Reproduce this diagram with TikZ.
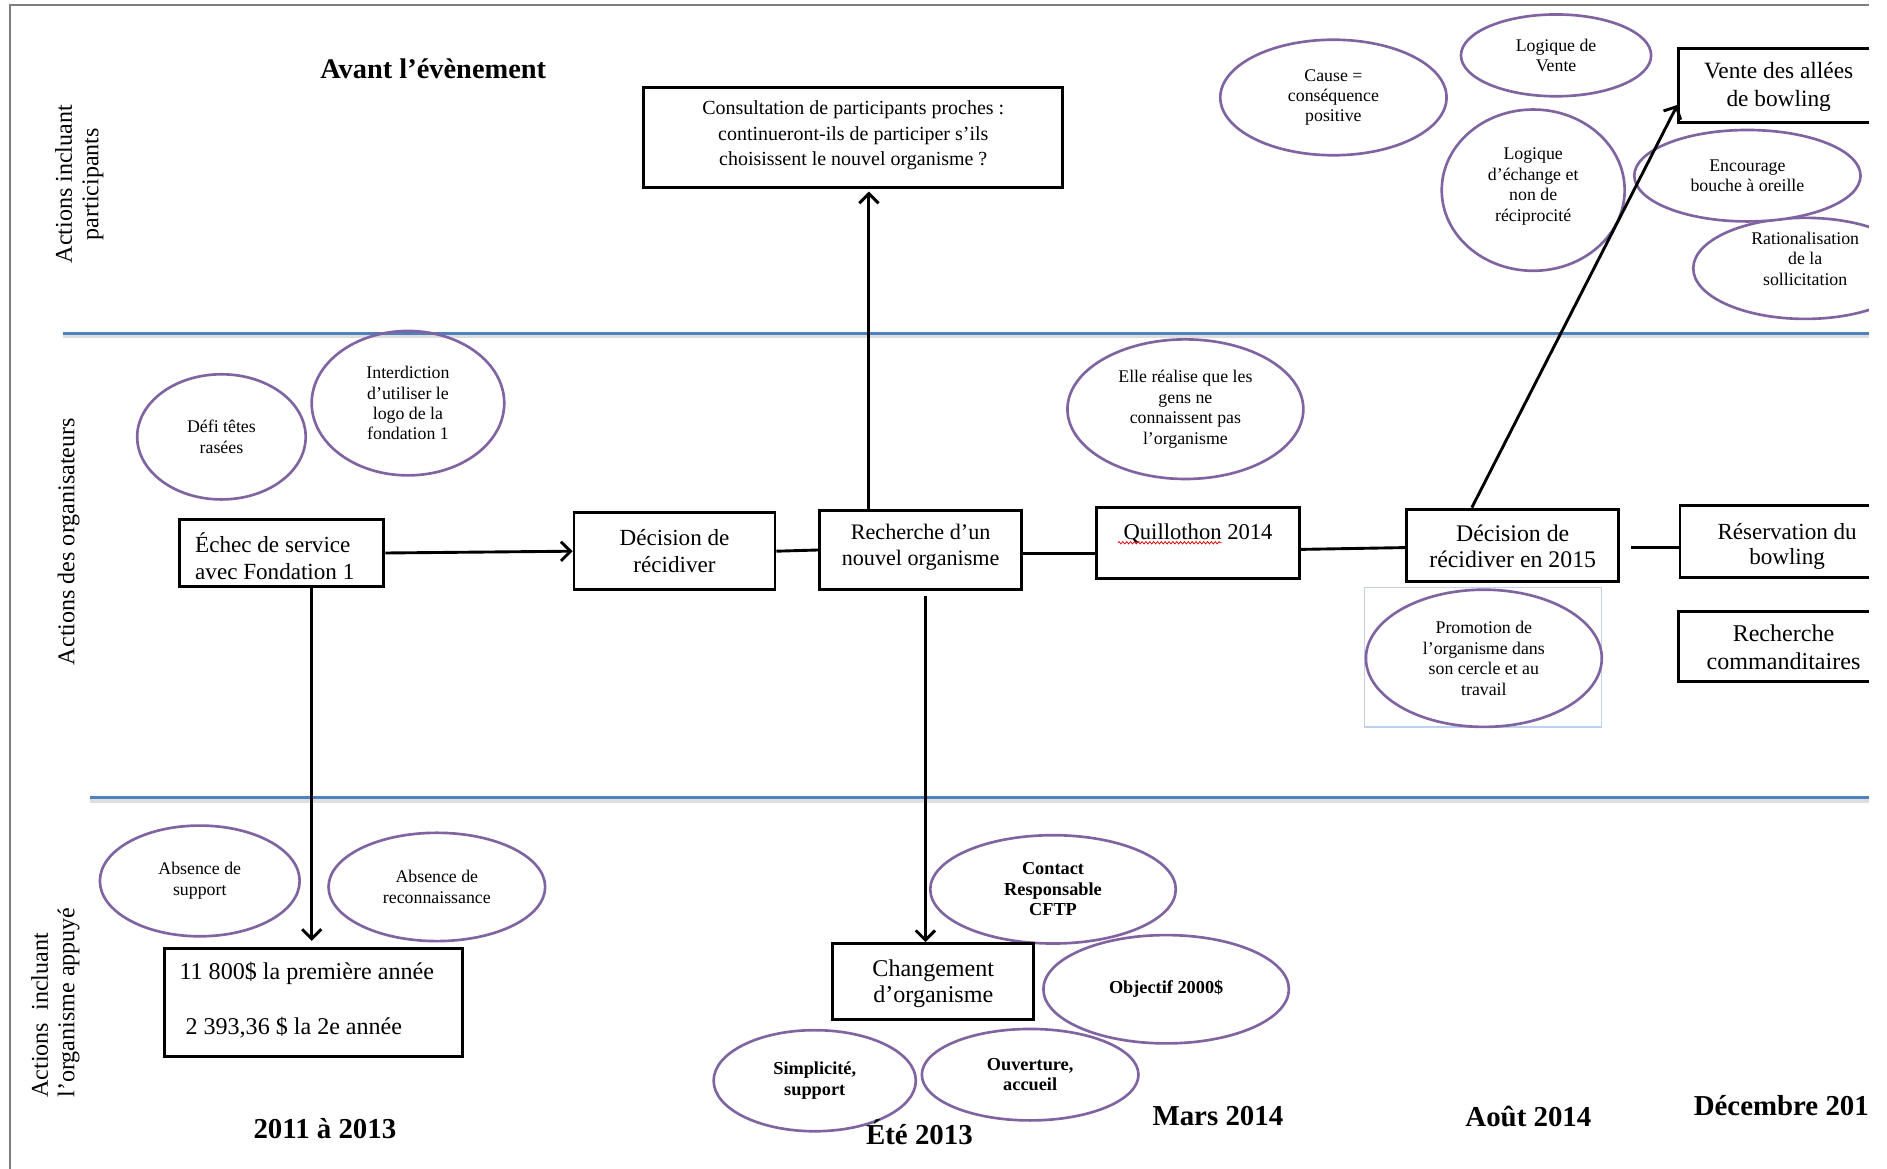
\documentclass[tikz,border=0pt]{standalone}
\usepackage{fontspec}
\setmainfont{Liberation Serif}
\usetikzlibrary{arrows.meta,shapes.geometric,fit,decorations.pathmorphing}

\definecolor{laneblue}{RGB}{79,129,189}
\definecolor{bubblec}{RGB}{128,100,162}
\definecolor{framegray}{RGB}{125,125,132}
\definecolor{tboxblue}{RGB}{190,210,240}

\tikzset{
  stepbox/.style={draw=black, line width=1.2pt, inner sep=0pt},
  boxtext/.style={inner sep=0pt, align=center, font=\fontsize{9.6}{11}\selectfont},
  bubble/.style={ellipse, draw=bubblec, line width=1.1pt, inner sep=0pt, align=center,
    font=\fontsize{7.4}{8.5}\selectfont},
  bubbletext/.style={inner sep=0pt, align=center, font=\fontsize{7.4}{8.5}\selectfont},
  boldbubble/.style={bubble, font=\bfseries\fontsize{7.6}{8.5}\selectfont},
  flow/.style={line width=1.2pt, -{Straight Barb[length=4pt,width=8pt]}},
  link/.style={line width=1.2pt},
  laneline/.style={line width=1.3pt, draw=laneblue},
  laneshadow/.style={line width=1.6pt, draw=black!13},
  datelbl/.style={font=\bfseries\fontsize{12}{14}\selectfont},
  lanelbl/.style={rotate=90, font=\fontsize{10}{11}\selectfont},
}

\begin{document}
\begin{tikzpicture}[x=0.5pt,y=-0.5pt]
\useasboundingbox (0,0) rectangle (1568,971);
\begin{scope}
\clip (0,0) rectangle (1553,971);

% page frame
\draw[framegray, line width=1pt] (8.5,980) -- (8.5,4) -- (1570,4);

% swim-lane separators
\draw[laneshadow] (52,279.5) -- (1570,279.5);
\draw[laneline] (52,277) -- (1570,277);
\draw[laneshadow] (75,665.5) -- (1570,665.5);
\draw[laneline] (75,663) -- (1570,663);

% lane titles
\node[lanelbl, align=center] (laneA) at (66,153) {Actions incluant\\participants};
\node[lanelbl] (laneB) at (57,450) {Actions des organisateurs};
\node[lanelbl, align=left] (laneC) at (46,833) {Actions~ incluant\\l’organisme appuyé};

\node[font=\bfseries\fontsize{11.8}{14}\selectfont] (title) at (360,57) {Avant l’évènement};

% context bubbles
\node[bubble, minimum width=94pt, minimum height=48pt] (cause) at (1108,81) {Cause =\\conséquence\\positive};
\node[bubble, minimum width=79pt, minimum height=34pt] (logvente) at (1293,46) {Logique de\\Vente};
\node[bubble, minimum width=76pt, minimum height=67pt] (logech) at (1274,158) {};
\node[bubbletext] (logechT) at ([yshift=1.5pt]logech.center) {Logique\\d’échange et\\non de\\réciprocité};
\node[bubble, minimum width=93pt, minimum height=42pt] (ration) at (1500,223) {};
\node[bubbletext] (rationT) at ([yshift=4pt]ration.center) {Rationalisation\\de la\\sollicitation};
\node[bubble, fill=white, minimum width=94pt, minimum height=38pt] (encour) at (1452,146) {Encourage\\bouche à oreille};
\node[bubble, minimum width=70pt, minimum height=52pt] (defi) at (184,363) {Défi têtes\\rasées};
\node[bubble, minimum width=80pt, minimum height=60pt] (interd) at (339,335) {Interdiction\\d’utiliser le\\logo de la\\fondation 1};
\node[bubble, minimum width=98pt, minimum height=58pt] (elle) at (985,340) {Elle réalise que les\\gens ne\\connaissent pas\\l’organisme};
\node[draw=tboxblue, line width=0.5pt, inner sep=0pt, fit={(1134,488) (1331,604)}] (promoframe) {};
\node[bubble, minimum width=98pt, minimum height=57pt] (promo) at (1233,547) {Promotion de\\l’organisme dans\\son cercle et au\\travail};
\node[bubble, minimum width=83pt, minimum height=46pt] (abssup) at (166,732) {Absence de\\support};
\node[bubble, minimum width=90pt, minimum height=45pt] (absrec) at (363,737) {Absence de\\reconnaissance};
\node[boldbubble, minimum width=102pt, minimum height=45pt] (contact) at (875,739) {Contact\\Responsable\\CFTP};
\node[boldbubble, minimum width=102pt, minimum height=45pt] (objectif) at (969,822) {Objectif 2000\$};
\node[boldbubble, minimum width=84pt, minimum height=42pt] (simpl) at (677,898) {Simplicité,\\support};
\node[boldbubble, minimum width=90pt, minimum height=38pt] (ouvert) at (856,893) {Ouverture,\\accueil};

% steps: frames
\node[stepbox, fit={(535,73) (883,156)}] (consult) {};
\node[stepbox, fit={(1395,40) (1561,102)}] (vente) {};
\node[stepbox, fit={(149,432) (319,487)}] (echec) {};
\node[stepbox, fit={(477,426) (644,490)}] (dec1) {};
\node[stepbox, fit={(681,424) (849,490)}] (rech) {};
\node[stepbox, fit={(911,422) (1080,481)}] (quill) {};
\node[stepbox, fit={(1169,423) (1345,483)}] (dec2) {};
\node[stepbox, fit={(1396,420) (1574,480)}] (reserv) {};
\node[stepbox, fit={(1395,508) (1569,566)}] (comman) {};
\node[stepbox, fit={(137,788) (384,878)}] (money) {};
\node[stepbox, fit={(692,784) (859,847)}] (change) {};

% steps: texts
\node[boxtext, font=\fontsize{8.3}{10.5}\selectfont] (consultT) at ([yshift=1pt]consult.center)
  {Consultation de participants proches :\\continueront-ils de participer s’ils\\choisissent le nouvel organisme ?};
\node[boxtext, font=\fontsize{9.7}{11.5}\selectfont] (venteT) at ([yshift=-0.5pt]vente.center) {Vente des allées\\de bowling};
\node[boxtext, align=left, anchor=west] (echecT) at ([xshift=7pt,yshift=-1.25pt]echec.west) {Échec de service\\avec Fondation 1};
\node[boxtext] (dec1T) at (dec1.center) {Décision de\\récidiver};
\node[boxtext, font=\fontsize{9.2}{10.7}\selectfont] (rechT) at ([yshift=1.25pt]rech.center) {Recherche d’un\\nouvel organisme};
\node[boxtext, font=\fontsize{9.4}{11}\selectfont] (quillT) at ([yshift=4.2pt]quill.center) {Quillothon 2014};
\node[boxtext, font=\fontsize{9.9}{10.6}\selectfont] (dec2T) at ([yshift=-0.5pt]dec2.center) {Décision de\\récidiver en 2015};
\node[boxtext, font=\fontsize{9.6}{10.6}\selectfont] (reservT) at ([yshift=-2pt]reserv.center) {Réservation du\\bowling};
\node[boxtext, font=\fontsize{10}{11.5}\selectfont] (commanT) at ([yshift=-0.5pt]comman.center) {Recherche\\commanditaires};
\node[boxtext, align=left, anchor=west, font=\fontsize{10}{11}\selectfont] (moneyT) at ([xshift=6.5pt,yshift=1pt]money.west)
  {11 800\$ la première année\\[11.5pt]\hspace*{2.5pt}2 393,36 \$ la 2e année};
\node[boxtext, font=\fontsize{10}{11}\selectfont] (changeT) at ([yshift=-1pt]change.center) {Changement\\d’organisme};

% spelling mark under the event name
\draw[red!85!black, line width=0.3pt, decorate,
  decoration={zigzag, amplitude=0.5pt, segment length=1.6pt}] (929,451) -- (1015,451);

% connectors
\draw[flow] (echec.east) -- (dec1.west);
\draw[link] (dec1.east) -- (rech.west);
\draw[flow] ([xshift=-21.5pt]rech.north) -- ([xshift=-21.5pt,yshift=-1pt]rech.north |- consult.south);
\draw[link] ([yshift=-1.5pt]rech.east) -- ([yshift=-1.5pt]rech.east -| quill.west);
\draw[link] ([yshift=-2.5pt]quill.east) -- ([yshift=-1pt]dec2.west);
\draw[link, shorten <=4.5pt] ([yshift=-1pt]dec2.east) -- ([yshift=-1pt]dec2.east -| reserv.west);
\draw[flow] ([xshift=-17pt]dec2.north) -- ([yshift=8pt]vente.south west);
\draw[flow] ([xshift=12.5pt]echec.south) -- ([xshift=12.5pt,yshift=2.5pt]echec.south |- money.north);
\draw[flow, shorten <=2pt] ([xshift=2pt]rech.south) -- ([xshift=2pt]rech.south |- change.north);

% time axis
\node[datelbl] (d1) at (270,938) {2011 à 2013};
\node[datelbl] (d2) at (764,941) {Été 2013};
\node[datelbl] (d3) at (1012,927) {Mars 2014};
\node[datelbl] (d4) at (1270,928) {Août 2014};
\node[datelbl, anchor=west, inner sep=0pt] (d5) at (1407,919) {Décembre 201};
\end{scope}
\end{tikzpicture}
\end{document}
